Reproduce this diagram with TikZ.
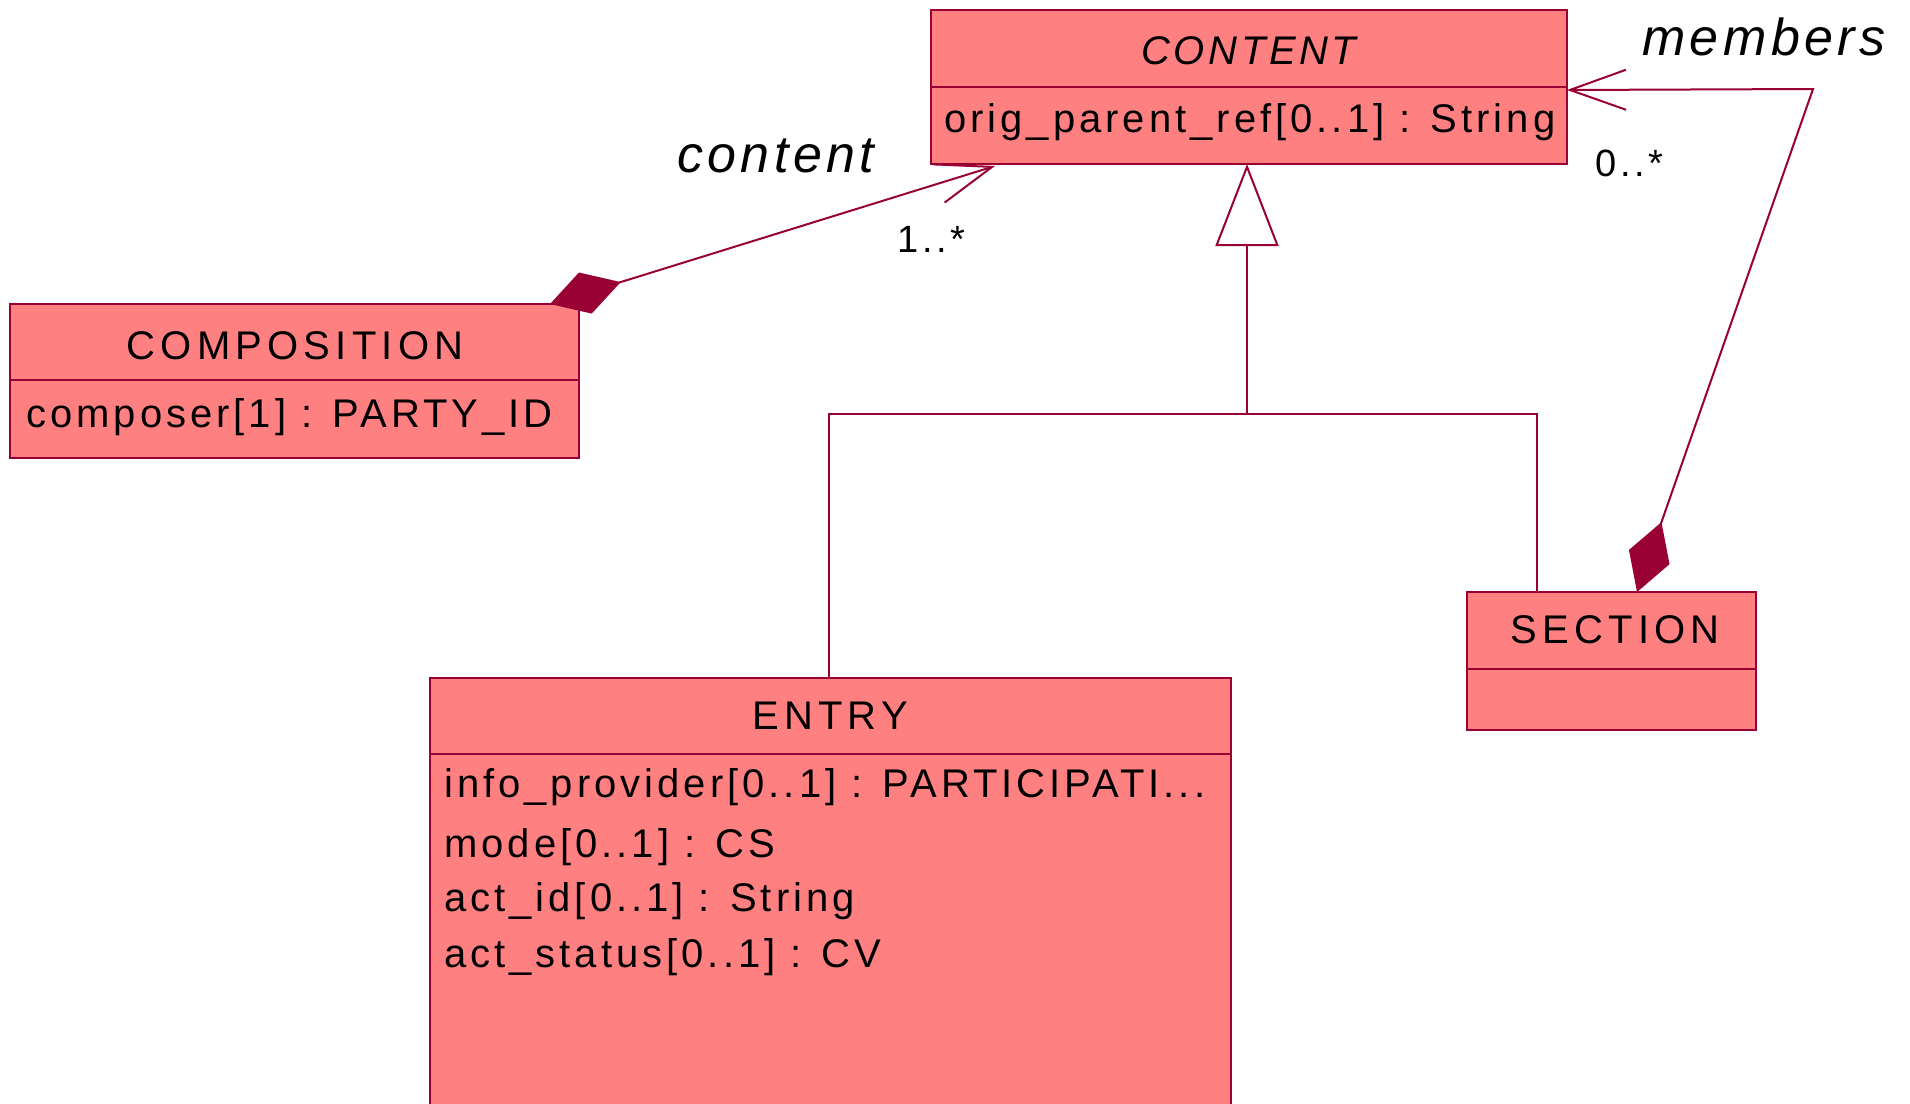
\documentclass[tikz,border=0pt]{standalone}
\usepackage{fontspec}
\setmainfont{Liberation Sans}[LetterSpace=10]
\newfontfamily\titlefont{Liberation Sans}[LetterSpace=13]
\newfontfamily\abstitlefont{Liberation Sans}[LetterSpace=9]
\newfontfamily\rolefont{Liberation Sans}[LetterSpace=8.5]
\usetikzlibrary{arrows.meta}
\definecolor{umlline}{HTML}{990033}
\definecolor{umlfill}{HTML}{FF8080}
\tikzset{
  compdiamond/.tip={Diamond[length=74pt,width=43pt,fill=umlline]},
  navbarb/.tip={Straight Barb[length=56pt,width=40pt]},
  gentri/.tip={Triangle[open,length=82pt,width=63pt]},
}
\begin{document}
\begin{tikzpicture}[x=1pt,y=-1pt,
  classbox/.style={draw=umlline, fill=umlfill, line width=2pt, rectangle,
    inner sep=0pt, outer sep=0pt, anchor=north west},
  edge/.style={draw=umlline, line width=2pt},
  divider/.style={draw=umlline, line width=2pt},
  ctitle/.style={anchor=base, inner sep=0pt, font=\titlefont\fontsize{40}{48}\selectfont},
  abstitle/.style={anchor=base, inner sep=0pt, font=\abstitlefont\fontsize{40}{48}\selectfont\itshape},
  attr/.style={anchor=base west, inner sep=0pt, font=\fontsize{40}{48}\selectfont},
  rolelbl/.style={anchor=base west, inner sep=0pt, font=\rolefont\fontsize{52}{60}\selectfont\itshape},
  mult/.style={anchor=base west, inner sep=0pt, font=\fontsize{38}{46}\selectfont},
]
\useasboundingbox (0,0) rectangle (1910,1103);
\clip (0,0) rectangle (1910,1103);
\fill[white] (0,0) rectangle (1910,1103);

% ---- classes ----
\node[classbox, minimum width=636pt, minimum height=154pt] (content) at (931,10) {};
\draw[divider] ([yshift=-77pt]content.north west) -- ([yshift=-77pt]content.north east);
\node[abstitle] (contentT) at (1249,64) {CONTENT};
\node[attr] (contentA) at (944,132) {orig\_parent\_ref[0..1] : String};

\node[classbox, minimum width=569pt, minimum height=154pt] (composition) at (10,304) {};
\draw[divider] ([yshift=-76pt]composition.north west) -- ([yshift=-76pt]composition.north east);
\node[ctitle] (compositionT) at (295,359) {COMPOSITION};
\node[attr] (compositionA) at (26,427) {composer[1] : PARTY\_ID};

\node[classbox, minimum width=289pt, minimum height=138pt] (section) at (1467,592) {};
\draw[divider] ([yshift=-77pt]section.north west) -- ([yshift=-77pt]section.north east);
\node[ctitle] (sectionT) at (1615,643) {SECTION};

\node[classbox, minimum width=801pt, minimum height=450pt] (entry) at (430,678) {};
\draw[divider] ([yshift=-76pt]entry.north west) -- ([yshift=-76pt]entry.north east);
\node[ctitle] (entryT) at (830,729) {ENTRY};
\node[attr] (entryA1) at (444,797) {info\_provider[0..1] : PARTICIPATI...};
\node[attr] (entryA2) at (444,857) {mode[0..1] : CS};
\node[attr] (entryA3) at (444,911) {act\_id[0..1] : String};
\node[attr] (entryA4) at (444,967) {act\_status[0..1] : CV};

% ---- generalisation tree ----
\coordinate (gjoin) at (1247,414);
\draw[edge] ([xshift=-2pt]entry.north) |- (gjoin) -| ([xshift=70pt]section.north west);
\draw[edge, -{gentri}] (gjoin) -- (gjoin |- content.south);

% ---- composition: COMPOSITION -> CONTENT ----
\draw[edge, {compdiamond}-{navbarb}] ([xshift=540pt]composition.north west)
  -- ([xshift=64pt,yshift=-2pt]content.south west);
\node[rolelbl] (roleContent) at (677,172) {content};
\node[mult] (multContent) at (897,252) {1..*};

% ---- composition: SECTION -> CONTENT ----
\coordinate (mcorner) at (1813,89);
\draw[edge, {compdiamond}-{navbarb}] ([xshift=170pt]section.north west)
  -- (mcorner) -- ([yshift=-80pt]content.north east);
\node[rolelbl] (roleMembers) at (1642,55) {members};
\node[mult] (multMembers) at (1595,176) {0..*};
\end{tikzpicture}
\end{document}
